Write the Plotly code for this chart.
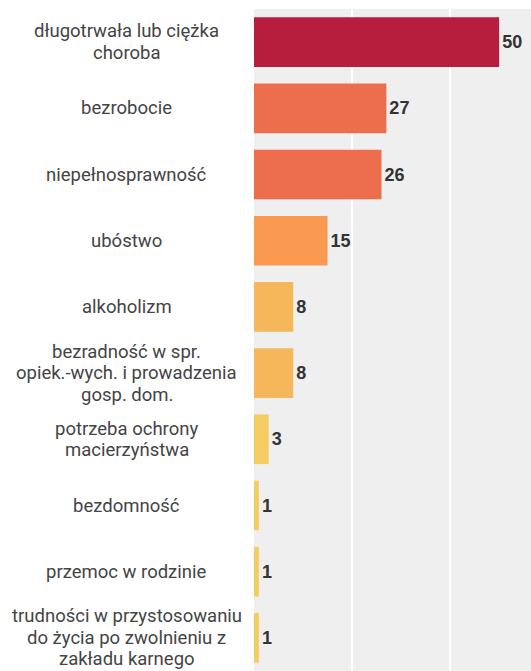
import plotly.graph_objects as go

categories = [
    "długotrwała lub ciężka<br>choroba",
    "bezrobocie",
    "niepełnosprawność",
    "ubóstwo",
    "alkoholizm",
    "bezradność w spr.<br>opiek.-wych. i prowadzenia<br>gosp. dom.",
    "potrzeba ochrony<br>macierzyństwa",
    "bezdomność",
    "przemoc w rodzinie",
    "trudności w przystosowaniu<br>do życia po zwolnieniu z<br>zakładu karnego",
]
values = [50, 27, 26, 15, 8, 8, 3, 1, 1, 1]
bar_colors = [
    "#b71d3d", "#ec6e4c", "#ec6e4c", "#f99a50", "#f6b75a",
    "#f6b75a", "#f4cd62", "#f4cd62", "#f4cd62", "#f4cd62",
]

fig = go.Figure(
    go.Bar(
        x=values,
        y=list(range(len(categories))),
        orientation="h",
        width=0.75,
        marker=dict(color=bar_colors, line=dict(width=0)),
        text=[str(v) for v in values],
        textposition="outside",
        cliponaxis=False,
        textfont=dict(family="Liberation Sans", size=18, color="#333333", weight="bold"),
        hoverinfo="skip",
    )
)

# Category labels centred in the left margin, one annotation per line
LINE_STEP = 21.5
for i, c in enumerate(categories):
    lines = c.split("<br>")
    n = len(lines)
    for k, line in enumerate(lines):
        fig.add_annotation(
            x=-0.46, xref="paper", y=i, yref="y",
            yshift=((n - 1) / 2 - k) * LINE_STEP,
            text=line, showarrow=False, xanchor="center", align="center",
            font=dict(family="Roboto", size=18.5, color="#444444"),
        )

fig.update_layout(
    width=531, height=671,
    margin=dict(l=254, r=0, t=9, b=0),
    paper_bgcolor="white",
    plot_bgcolor="#efefef",
    showlegend=False,
)
fig.update_xaxes(
    range=[0, 56.5], tickvals=[20, 40], showticklabels=False,
    showgrid=True, gridcolor="white", gridwidth=2, zeroline=False,
)
fig.update_yaxes(
    range=[9.5, -0.5], showticklabels=False, showgrid=False, zeroline=False,
)

fig.write_html("out.html")
